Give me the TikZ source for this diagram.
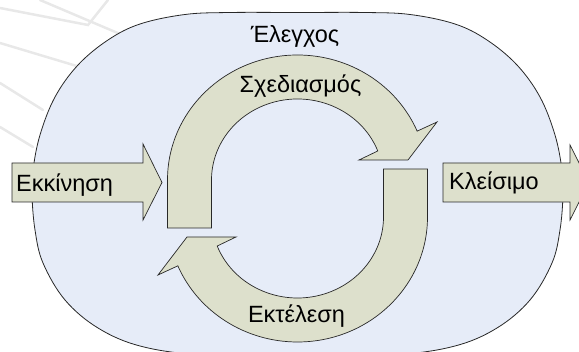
\documentclass[tikz,border=0pt]{standalone}
\usepackage{fontspec}
\setmainfont{Liberation Sans}
\definecolor{shapeblue}{RGB}{230,236,248}
\definecolor{arrowkhaki}{RGB}{221,224,204}
\definecolor{edgegrey}{RGB}{40,40,40}
\definecolor{faintgrey}{RGB}{232,232,232}
\begin{document}
\begin{tikzpicture}[x=1pt,y=1pt,
  outer/.style={fill=shapeblue,draw=edgegrey,line width=0.8pt},
  blockarrow/.style={fill=arrowkhaki,draw=edgegrey,line width=0.7pt,line join=miter},
  label/.style={inner sep=0pt,font=\fontsize{23.5}{23.5}\selectfont,text=black},
  streak/.style={draw=faintgrey,line width=2.5pt,line cap=round}]
\useasboundingbox (0,0) rectangle (579,352);
\clip (0,0) rectangle (579,352);

% faint background streaks
\draw[streak] (0,344) -- (88,327) -- (108,352);
\draw[streak] (0,309) -- (80,285);
\draw[streak] (0,269) -- (43,242);
\draw[streak] (0,225) -- (33,205);
\draw[streak] (40,352) -- (120,318);

% outer rounded region
\draw[outer] plot[smooth cycle,tension=0.6] coordinates {
  (297.5,339.5) (230,339.5) (185,337.5) (140,328) (108,312) (78,287) (55,255)
  (40,217) (33,182) (32,157) (35,122) (43,89) (65,52) (98,24) (140,6) (200,-3)
  (297.5,-7)
  (395,-3) (455,6) (497,24) (530,52) (552,89) (560,122) (563,157) (562,182)
  (555,217) (540,255) (517,287) (487,312) (455,328) (410,337.5) (365,339.5)};

% upper circular arrow
\path[blockarrow] (167.5,124) -- (167.5,172)
  arc[start angle=180,end angle=23,x radius=130,y radius=125]
  -- (437,230) -- (408,192) -- (359,192)
  -- ([shift={(297.5,172)}]21:86 and 81)
  arc[start angle=21,end angle=180,x radius=86,y radius=81]
  -- (211.5,124) -- cycle;

% lower circular arrow (point reflection of the upper one)
\begin{scope}[rotate around={180:(297.5,153.5)}]
\path[blockarrow] (167.5,124) -- (167.5,172)
  arc[start angle=180,end angle=23,x radius=130,y radius=125]
  -- (437,230) -- (408,192) -- (359,192)
  -- ([shift={(297.5,172)}]21:86 and 81)
  arc[start angle=21,end angle=180,x radius=86,y radius=81]
  -- (211.5,124) -- cycle;
\end{scope}

% entry and exit arrows
\path[blockarrow] (12,189) -- (143,189) -- (143,208) -- (162,169.5)
  -- (143,132) -- (143,150) -- (12,150) -- cycle;
\path[blockarrow] (443,189) -- (570,189) -- (570,207) -- (589,169.5)
  -- (570,132) -- (570,150) -- (443,150) -- cycle;

% labels
\node[label,anchor=base] (control) at (295,309) {Έλεγχος};
\node[label,anchor=base] (plan) at (300.5,259) {Σχεδιασμός};
\node[label,anchor=base] (exec) at (296.5,29) {Εκτέλεση};
\node[label,anchor=base west] (start) at (16,160) {Εκκίνηση};
\node[label,anchor=base west] (close) at (449,162) {Κλείσιμο};
\end{tikzpicture}
\end{document}
